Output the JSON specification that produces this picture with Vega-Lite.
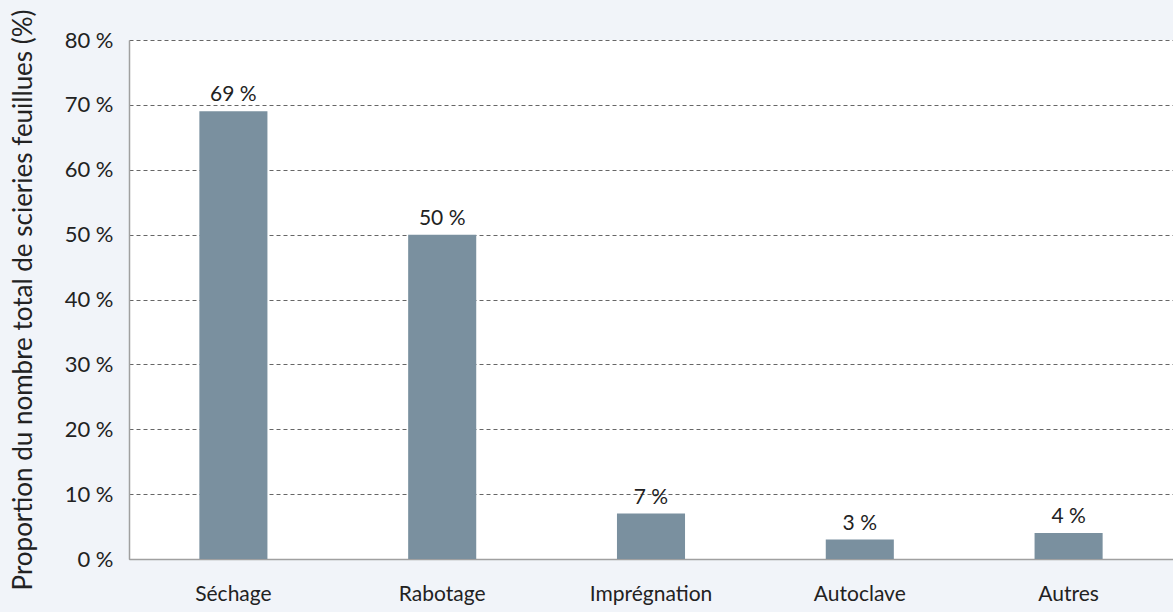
{
  "$schema": "https://vega.github.io/schema/vega-lite/v6.json",
  "width": 1044,
  "height": 519,
  "autosize": {"type": "none"},
  "padding": {"left": 129, "top": 40, "right": 0, "bottom": 53},
  "background": "#f1f4f9",
  "config": {
    "view": {"fill": "white", "stroke": null},
    "font": "Lato"
  },
  "data": {
    "values": [
      {"cat": "Séchage", "val": 69, "label": "69 %"},
      {"cat": "Rabotage", "val": 50, "label": "50 %"},
      {"cat": "Imprégnation", "val": 7, "label": "7 %"},
      {"cat": "Autoclave", "val": 3, "label": "3 %"},
      {"cat": "Autres", "val": 4, "label": "4 %"}
    ]
  },
  "encoding": {
    "x": {
      "field": "cat", "type": "nominal", "sort": null,
      "scale": {"paddingInner": 0.674, "paddingOuter": 0.337},
      "axis": {
        "title": null, "labelAngle": 0, "labelFontSize": 21, "labelColor": "#222",
        "labelPadding": 24, "ticks": false, "domainColor": "#a0a0a0", "domainWidth": 1.5
      }
    },
    "y": {
      "field": "val", "type": "quantitative",
      "scale": {"domain": [0, 80], "nice": false},
      "axis": {
        "values": [0, 10, 20, 30, 40, 50, 60, 70, 80],
        "labelExpr": "datum.value + ' %'",
        "title": "Proportion du nombre total de scieries feuillues (%)",
        "titleFontSize": 26, "titleFontWeight": "normal", "titleColor": "#222",
        "titlePadding": 28,
        "labelFontSize": 22, "labelColor": "#222", "labelPadding": 16,
        "ticks": false, "domainColor": "#a0a0a0", "domainWidth": 1.5,
        "grid": true, "gridDash": [4, 3], "gridColor": "#666", "gridWidth": 1
      }
    }
  },
  "layer": [
    {"mark": {"type": "bar", "color": "#7a909f"}},
    {
      "mark": {"type": "text", "dy": -6, "fontSize": 21, "color": "#222", "baseline": "bottom"},
      "encoding": {"text": {"field": "label", "type": "nominal"}}
    }
  ]
}
